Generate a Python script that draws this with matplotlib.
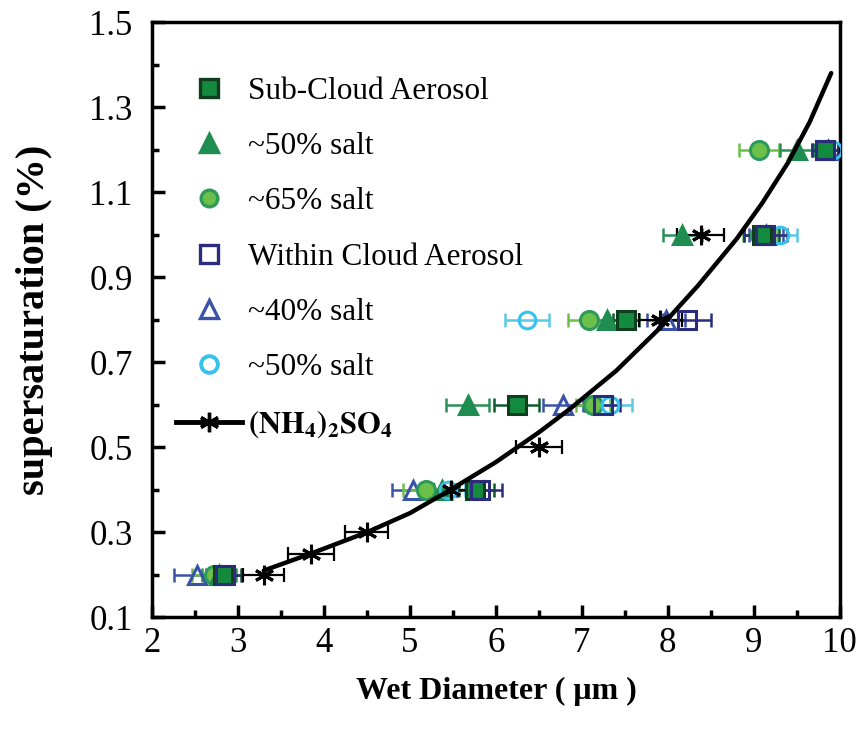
import matplotlib
matplotlib.use('Agg')
import matplotlib.pyplot as plt
from matplotlib.lines import Line2D
from matplotlib.ticker import MultipleLocator

plt.rcParams['font.family'] = ['Liberation Serif', 'DejaVu Serif']
plt.rcParams['mathtext.fontset'] = 'stix'

ss = [0.2, 0.4, 0.6, 0.8, 1.0, 1.2]

sub_cloud = [2.83, 5.76, 6.24, 7.51, 9.09, 9.83]
sub_cloud_err = [0.2, 0.22, 0.26, 0.15, 0.2, 0.15]
sub50 = [2.78, 5.37, 5.67, 7.29, 8.17, 9.50]
sub50_err = [0.2, 0.2, 0.25, 0.2, 0.23, 0.2]
sub65 = [2.72, 5.19, 7.13, 7.08, 9.07, 9.06]
sub65_err = [0.25, 0.27, 0.2, 0.24, 0.2, 0.23]

within = [2.85, 5.81, 7.24, 8.22, 9.13, 9.83]
within_err = [0.2, 0.26, 0.2, 0.28, 0.25, 0.15]
win40 = [2.52, 5.03, 6.78, 7.98, 9.14, 9.86]
win40_err = [0.27, 0.24, 0.23, 0.22, 0.2, 0.12]
win50 = [2.85, 5.44, 7.33, 6.36, 9.30, 9.92]
win50_err = [0.2, 0.2, 0.25, 0.26, 0.2, 0.2]

ss_nh = [0.2, 0.25, 0.3, 0.4, 0.5, 0.8, 1.0]
nh = [3.30, 3.85, 4.50, 5.48, 6.50, 7.91, 8.38]
nh_err = [0.24, 0.27, 0.25, 0.2, 0.27, 0.25, 0.27]

# curve
curve_x = [3.3, 3.85, 4.5, 5.0, 5.43, 6.0, 6.5, 6.86, 7.4, 7.88, 8.35, 8.8, 9.1, 9.4, 9.65, 9.9]
curve_y = [0.21, 0.25, 0.30, 0.345, 0.395, 0.465, 0.535, 0.59, 0.68, 0.775, 0.88, 0.99, 1.075, 1.17, 1.265, 1.38]

fig = plt.figure(figsize=(8.64, 7.34), dpi=100)
ax = fig.add_axes([0.176, 0.159, 0.796, 0.811])

star = (6, 2, 0)


def series(x, y, xe, marker, face, edge, ecol, ms, label):
    ax.errorbar(x, y, xerr=xe, fmt='none', ecolor=ecol, elinewidth=1.8, capsize=5, capthick=1.8, zorder=2)
    ax.plot(x, y, ls='none', marker=marker, mfc=face, mec=edge, mew=2.2, ms=ms, label=label, zorder=3)


series(win40, ss, win40_err, '^', 'none', '#3a52a8', '#3a52a8', 13, '~40% salt')
series(sub65, ss, sub65_err, 'o', '#6cc04a', '#2e9a5a', '#6cc04a', 13, '~65% salt')
series(sub50, ss, sub50_err, '^', '#1f8c50', '#1f8c50', '#2a9058', 13, '~50% salt')
series(win50, ss, win50_err, 'o', 'none', '#35c3ee', '#5cc8e6', 12, '~50% salt ')
series(sub_cloud, ss, sub_cloud_err, 's', '#138a3e', '#0f3d1e', '#0f5a2a', 13, 'Sub-Cloud Aerosol')
series(within, ss, within_err, 's', 'none', '#2b2d7c', '#2b2d7c', 13, 'Within Cloud Aerosol')

ax.errorbar(nh, ss_nh, xerr=nh_err, fmt='none', ecolor='black', elinewidth=1.6, capsize=5, capthick=1.6, zorder=2)
ax.plot(nh, ss_nh, ls='none', marker=star, color='black', ms=14, mew=2.2, zorder=4)
ax.plot(curve_x, curve_y, color='black', lw=3.2, zorder=5, solid_capstyle='round', solid_joinstyle='round')

handles = [
    Line2D([], [], ls='none', marker='s', mfc='#138a3e', mec='#0f3d1e', mew=2.4, ms=13),
    Line2D([], [], ls='none', marker='^', mfc='#1f8c50', mec='#1f8c50', mew=2.4, ms=13),
    Line2D([], [], ls='none', marker='o', mfc='#6cc04a', mec='#2e9a5a', mew=2.4, ms=12),
    Line2D([], [], ls='none', marker='s', mfc='none', mec='#2b2d7c', mew=2.4, ms=13),
    Line2D([], [], ls='none', marker='^', mfc='none', mec='#3a52a8', mew=2.4, ms=13),
    Line2D([], [], ls='none', marker='o', mfc='none', mec='#35c3ee', mew=2.8, ms=12),
    Line2D([], [], color='black', lw=3.5, marker=star, ms=14, mew=2.4),
]
labels = ['Sub-Cloud Aerosol', '~50% salt', '~65% salt', 'Within Cloud Aerosol',
          '~40% salt', '~50% salt', r'$\mathbf{(NH_4)_2SO_4}$']
leg = ax.legend(handles, labels, loc='upper left', frameon=False, fontsize=22.5,
                labelspacing=0.84, handlelength=2.1, handletextpad=0.2,
                borderpad=0, borderaxespad=0, bbox_to_anchor=(0.035, 0.908))
leg.get_texts()[-1].set_fontweight('bold')
leg.get_texts()[-1].set_fontsize(22)

ax.set_xlim(2, 10)
ax.set_ylim(0.1, 1.5)
ax.xaxis.set_major_locator(MultipleLocator(1))
ax.xaxis.set_minor_locator(MultipleLocator(0.5))
ax.yaxis.set_minor_locator(MultipleLocator(0.1))
ax.tick_params(which='both', direction='in', width=2.5, labelsize=25)
ax.tick_params(which='major', length=9)
ax.tick_params(axis='x', which='major', pad=7)
ax.tick_params(axis='y', which='major', pad=14)
ax.tick_params(which='minor', length=5)
ax.set_yticks([0.1, 0.3, 0.5, 0.7, 0.9, 1.1, 1.3, 1.5])
ax.set_yticklabels(['0.1', '0.3', '0.5', '0.7', '0.9', '1.1', '1.3', '1.5'])
for s in ax.spines.values():
    s.set_linewidth(2.5)

ax.set_xlabel('Wet Diameter ( μm )', fontsize=23, fontweight='bold', labelpad=12)
ax.set_ylabel('supersaturation (%)', fontsize=29, fontweight='bold', labelpad=26)

fig.savefig('out.png', dpi=100)
